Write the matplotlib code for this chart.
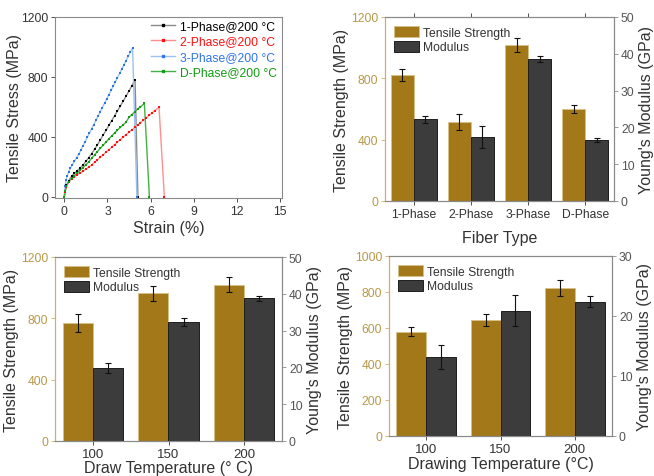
import matplotlib
matplotlib.use("Agg")
import matplotlib.pyplot as plt
from matplotlib.patches import Patch
from matplotlib.lines import Line2D
import numpy as np

plt.rcParams['font.family'] = ['Liberation Sans', 'DejaVu Sans']

# ---- stress-strain curves (strain %, stress MPa) ----
strain_1 = [0, 0.05, 0.15, 0.3, 0.5, 0.7, 0.9, 1.1, 1.3, 1.5, 1.7, 1.9, 2.1, 2.3, 2.5, 2.7,
            2.9, 3.1, 3.3, 3.5, 3.7, 3.9, 4.1, 4.3, 4.5, 4.7, 4.92, 5.12]
stress_1 = [0, 35, 75, 105, 135, 155, 172, 190, 210, 235, 260, 287, 315, 345, 378, 410,
            442, 475, 508, 540, 572, 605, 638, 672, 705, 740, 782, 0]

strain_2 = [0, 0.05, 0.15, 0.3, 0.5, 0.7, 0.9, 1.1, 1.3, 1.5, 1.7, 1.9, 2.1, 2.3, 2.5, 2.7,
            2.9, 3.1, 3.3, 3.5, 3.7, 3.9, 4.1, 4.3, 4.5, 4.7, 4.9, 5.1, 5.3, 5.5, 5.7, 5.9,
            6.1, 6.3, 6.59, 6.96]
stress_2 = [0, 30, 65, 95, 118, 132, 145, 158, 170, 183, 197, 212, 228, 245, 262, 279,
            296, 313, 330, 347, 364, 381, 398, 414, 430, 446, 462, 478, 494, 510, 526, 542,
            558, 574, 596, 0]

strain_3 = [0, 0.05, 0.12, 0.2, 0.3, 0.42, 0.55, 0.7, 0.85, 1.0, 1.15, 1.3, 1.45, 1.6, 1.75,
            1.9, 2.05, 2.2, 2.35, 2.5, 2.65, 2.8, 2.95, 3.1, 3.25, 3.4, 3.55, 3.7, 3.85, 4.0,
            4.15, 4.3, 4.45, 4.6, 4.75, 5.05]
stress_3 = [0, 70, 110, 140, 165, 190, 212, 235, 260, 282, 310, 339, 367, 396, 424,
            453, 481, 510, 538, 567, 595, 624, 652, 681, 709, 738, 766, 795, 823, 852,
            880, 909, 937, 966, 994, 0]

strain_d = [0, 0.05, 0.15, 0.3, 0.5, 0.7, 0.9, 1.1, 1.3, 1.5, 1.7, 1.9, 2.1, 2.3, 2.5, 2.7,
            2.9, 3.1, 3.3, 3.5, 3.7, 3.9, 4.1, 4.3, 4.5, 4.7, 4.9, 5.1, 5.3, 5.57, 5.92]
stress_d = [0, 35, 70, 100, 122, 140, 157, 175, 193, 212, 232, 255, 278, 300, 322, 343,
            364, 385, 405, 425, 444, 462, 480, 497, 530, 548, 565, 585, 600, 622, 0]

curve_labels = ['1-Phase@200 °C', '2-Phase@200 °C', '3-Phase@200 °C', 'D-Phase@200 °C']

# ---- fiber type bars ----
fiber_types = ['1-Phase', '2-Phase', '3-Phase', 'D-Phase']
fiber_ts = [820, 515, 1020, 600]
fiber_ts_err = [40, 50, 45, 25]
fiber_mod = [22.2, 17.4, 38.6, 16.6]
fiber_mod_err = [1.0, 3.0, 0.7, 0.5]

# ---- draw temperature bars (left bottom) ----
draw_temps = ['100', '150', '200']
draw_ts = [770, 964, 1019]
draw_ts_err = [60, 50, 50]
draw_mod = [19.9, 32.3, 38.8]
draw_mod_err = [1.4, 1.0, 0.7]

# ---- drawing temperature bars (right bottom) ----
drawing_temps = ['100', '150', '200']
drawing_ts = [580, 645, 822]
drawing_ts_err = [25, 33, 42]
drawing_mod = [13.1, 20.9, 22.4]
drawing_mod_err = [2.0, 2.6, 0.9]

GOLD = '#a27819'
DARK = '#3c3c3c'
GOLD_TXT = '#b8994a'
GOLD_SPINE = '#cdb06a'
TXT = '#333333'
GRAY = '#8a8a8a'

fig = plt.figure(figsize=(6.54, 4.77), dpi=100)


def px_rect(l, t, r, b):
    W, H = 654.0, 477.0
    return [l / W, 1 - b / H, (r - l) / W, (b - t) / H]


# ================= top-left: stress-strain =================
ax = fig.add_axes(px_rect(55, 18, 282, 199))
curves = [(strain_1, stress_1, '#000000', '#8a8a8a'),
          (strain_2, stress_2, '#ff1010', '#ff8f8f'),
          (strain_3, stress_3, '#2f74e6', '#9cc0f2'),
          (strain_d, stress_d, '#129a12', '#45b045')]
handles = []
for (sx, sy, mc, lc), lab in zip(curves, curve_labels):
    ax.plot(sx, sy, '-', color=lc, lw=1.0, zorder=2)
    ax.plot(sx, sy, 's', color=mc, ms=1.7, mew=0, zorder=3)
    handles.append(Line2D([0], [0], color=lc, lw=1.0, marker='s', ms=1.8,
                          mfc=mc, mec=mc, label=lab))
ax.set_xlim(-0.65, 15.15)
ax.set_ylim(-10, 1200)
ax.set_xticks([0, 3, 6, 9, 12, 15])
ax.set_yticks([0, 400, 800, 1200])
ax.set_xlabel('Strain (%)', fontsize=11.5, color=TXT, labelpad=2)
ax.set_ylabel('Tensile Stress (MPa)', fontsize=11.5, color=TXT, labelpad=-1)
ax.tick_params(labelsize=8.7, colors=TXT, length=3, width=0.6, pad=2)
for s in ax.spines.values():
    s.set_color(GRAY)
    s.set_linewidth(0.8)
leg = ax.legend(handles=handles, loc='upper right', frameon=False, fontsize=8.7,
                handlelength=2.0, labelspacing=0.28, borderaxespad=0.0,
                handletextpad=0.4, bbox_to_anchor=(1.0, 1.01))
for t, (_, _, mc, _) in zip(leg.get_texts(), curves):
    t.set_color(mc)


def bar_panel(rect, cats, ts, ts_err, mod, mod_err, ts_max, ts_step, mod_max, mod_step,
              xlabel, xtick_size, xlabel_pad, top_ticks=False):
    a = fig.add_axes(px_rect(*rect))
    b = a.twinx()
    x = np.arange(len(cats))
    w = 0.4
    a.bar(x - w / 2, ts, w, color=GOLD, edgecolor='#d8c088', lw=0.7, zorder=2)
    a.errorbar(x - w / 2, ts, yerr=ts_err, fmt='none', ecolor='#111111',
               elinewidth=0.8, capsize=2, capthick=0.8, zorder=3)
    b.bar(x + w / 2, mod, w, color=DARK, edgecolor='#1e1e1e', lw=0.7, zorder=2)
    b.errorbar(x + w / 2, mod, yerr=mod_err, fmt='none', ecolor='#111111',
               elinewidth=0.8, capsize=2, capthick=0.8, zorder=3)
    a.set_xlim(-0.5, len(cats) - 0.5)
    a.set_ylim(0, ts_max)
    b.set_ylim(0, mod_max)
    a.set_yticks(np.arange(0, ts_max + 1, ts_step))
    b.set_yticks(np.arange(0, mod_max + 1, mod_step))
    a.set_xticks(x)
    a.set_xticklabels(cats)
    a.tick_params(axis='x', labelsize=xtick_size, colors=TXT, length=3, width=0.6,
                  top=top_ticks, pad=2)
    a.tick_params(axis='y', labelsize=8.7, colors=GOLD_SPINE, labelcolor=GOLD_TXT,
                  length=3, width=0.6, pad=2)
    b.tick_params(axis='y', labelsize=8.7, colors=GRAY, labelcolor='#555555',
                  length=3, width=0.6, pad=2)
    a.set_ylabel('Tensile Strength (MPa)', fontsize=11.5, color=TXT, labelpad=1)
    b.set_ylabel("Young's Modulus (GPa)", fontsize=11.5, color=TXT, labelpad=3)
    a.set_xlabel(xlabel, fontsize=11.5, color=TXT, labelpad=xlabel_pad)
    for s in ['top', 'bottom', 'right']:
        a.spines[s].set_color(GRAY)
        b.spines[s].set_color(GRAY)
    a.spines['left'].set_color(GOLD_SPINE)
    b.spines['left'].set_color(GOLD_SPINE)
    for s in list(a.spines.values()) + list(b.spines.values()):
        s.set_linewidth(0.8)
    h = [Patch(facecolor=GOLD, edgecolor='#d8c088', lw=0.7, label='Tensile Strength'),
         Patch(facecolor=DARK, edgecolor='#1e1e1e', lw=0.7, label='Modulus')]
    lg = b.legend(handles=h, loc='upper left', frameon=False, fontsize=8.7,
                  handlelength=2.1, handleheight=1.05, labelspacing=0.15,
                  handletextpad=0.3, borderaxespad=0.35)
    for t in lg.get_texts():
        t.set_color(TXT)
    return a, b


bar_panel((385, 18, 614, 202), fiber_types, fiber_ts, fiber_ts_err, fiber_mod,
          fiber_mod_err, 1200, 400, 50, 10, 'Fiber Type', 8.7, 7, top_ticks=True)
bar_panel((55, 258, 282, 442), draw_temps, draw_ts, draw_ts_err, draw_mod,
          draw_mod_err, 1200, 400, 50, 10, 'Draw Temperature (° C)', 9.5, 0)
bar_panel((389, 257, 612, 437), drawing_temps, drawing_ts, drawing_ts_err, drawing_mod,
          drawing_mod_err, 1000, 200, 30, 10, 'Drawing Temperature (°C)', 9.5, 1)

fig.savefig('out.png', dpi=100)
